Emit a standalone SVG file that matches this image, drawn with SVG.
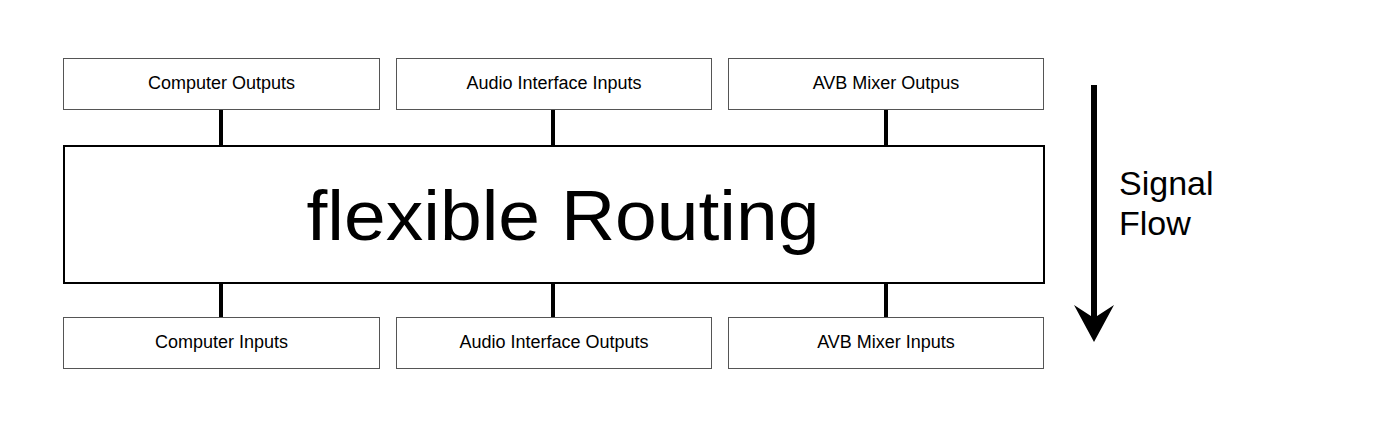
<svg xmlns="http://www.w3.org/2000/svg" width="1374" height="430" viewBox="0 0 1374 430">
<style>
.box{fill:#fff;stroke:#555;stroke-width:1}
.main{fill:#fff;stroke:#000;stroke-width:2}
.lbl{font-family:"Liberation Sans",Arial,sans-serif;font-size:18px;fill:#000;text-anchor:middle}
.big{font-family:"Liberation Sans",Arial,sans-serif;font-size:71px;fill:#000;text-anchor:middle}
.sf{font-family:"Liberation Sans",Arial,sans-serif;font-size:34px;fill:#000}
.conn{stroke:#000;stroke-width:4}
</style>
<rect width="1374" height="430" fill="#fff"/>
<g id="connectors">
<line class="conn" x1="221" y1="110" x2="221" y2="145"/>
<line class="conn" x1="553" y1="110" x2="553" y2="145"/>
<line class="conn" x1="886" y1="110" x2="886" y2="145"/>
<line class="conn" x1="221" y1="283" x2="221" y2="317"/>
<line class="conn" x1="553" y1="283" x2="553" y2="317"/>
<line class="conn" x1="886" y1="283" x2="886" y2="317"/>
</g>
<g id="computer-outputs"><rect class="box" x="63.5" y="58.5" width="316" height="51"/><text class="lbl" x="221.5" y="89">Computer Outputs</text></g>
<g id="audio-interface-inputs"><rect class="box" x="396.5" y="58.5" width="315" height="51"/><text class="lbl" x="554" y="89">Audio Interface Inputs</text></g>
<g id="avb-mixer-outputs"><rect class="box" x="728.5" y="58.5" width="315" height="51"/><text class="lbl" x="886" y="89">AVB Mixer Outpus</text></g>
<g id="flexible-routing"><rect class="main" x="64" y="146" width="980" height="137"/><text class="big" x="563" y="240" textLength="513" lengthAdjust="spacingAndGlyphs">flexible Routing</text></g>
<g id="computer-inputs"><rect class="box" x="63.5" y="317.5" width="316" height="51"/><text class="lbl" x="221.5" y="348">Computer Inputs</text></g>
<g id="audio-interface-outputs"><rect class="box" x="396.5" y="317.5" width="315" height="51"/><text class="lbl" x="554" y="348">Audio Interface Outputs</text></g>
<g id="avb-mixer-inputs"><rect class="box" x="728.5" y="317.5" width="315" height="51"/><text class="lbl" x="886" y="348">AVB Mixer Inputs</text></g>
<g id="signal-flow">
<line x1="1094" y1="85" x2="1094" y2="320" stroke="#000" stroke-width="6"/>
<path d="M1074,305 L1094,318 L1114,305 L1094,342 Z" fill="#000"/>
<text class="sf" x="1119" y="195">Signal</text>
<text class="sf" x="1119" y="235">Flow</text>
</g>
</svg>
